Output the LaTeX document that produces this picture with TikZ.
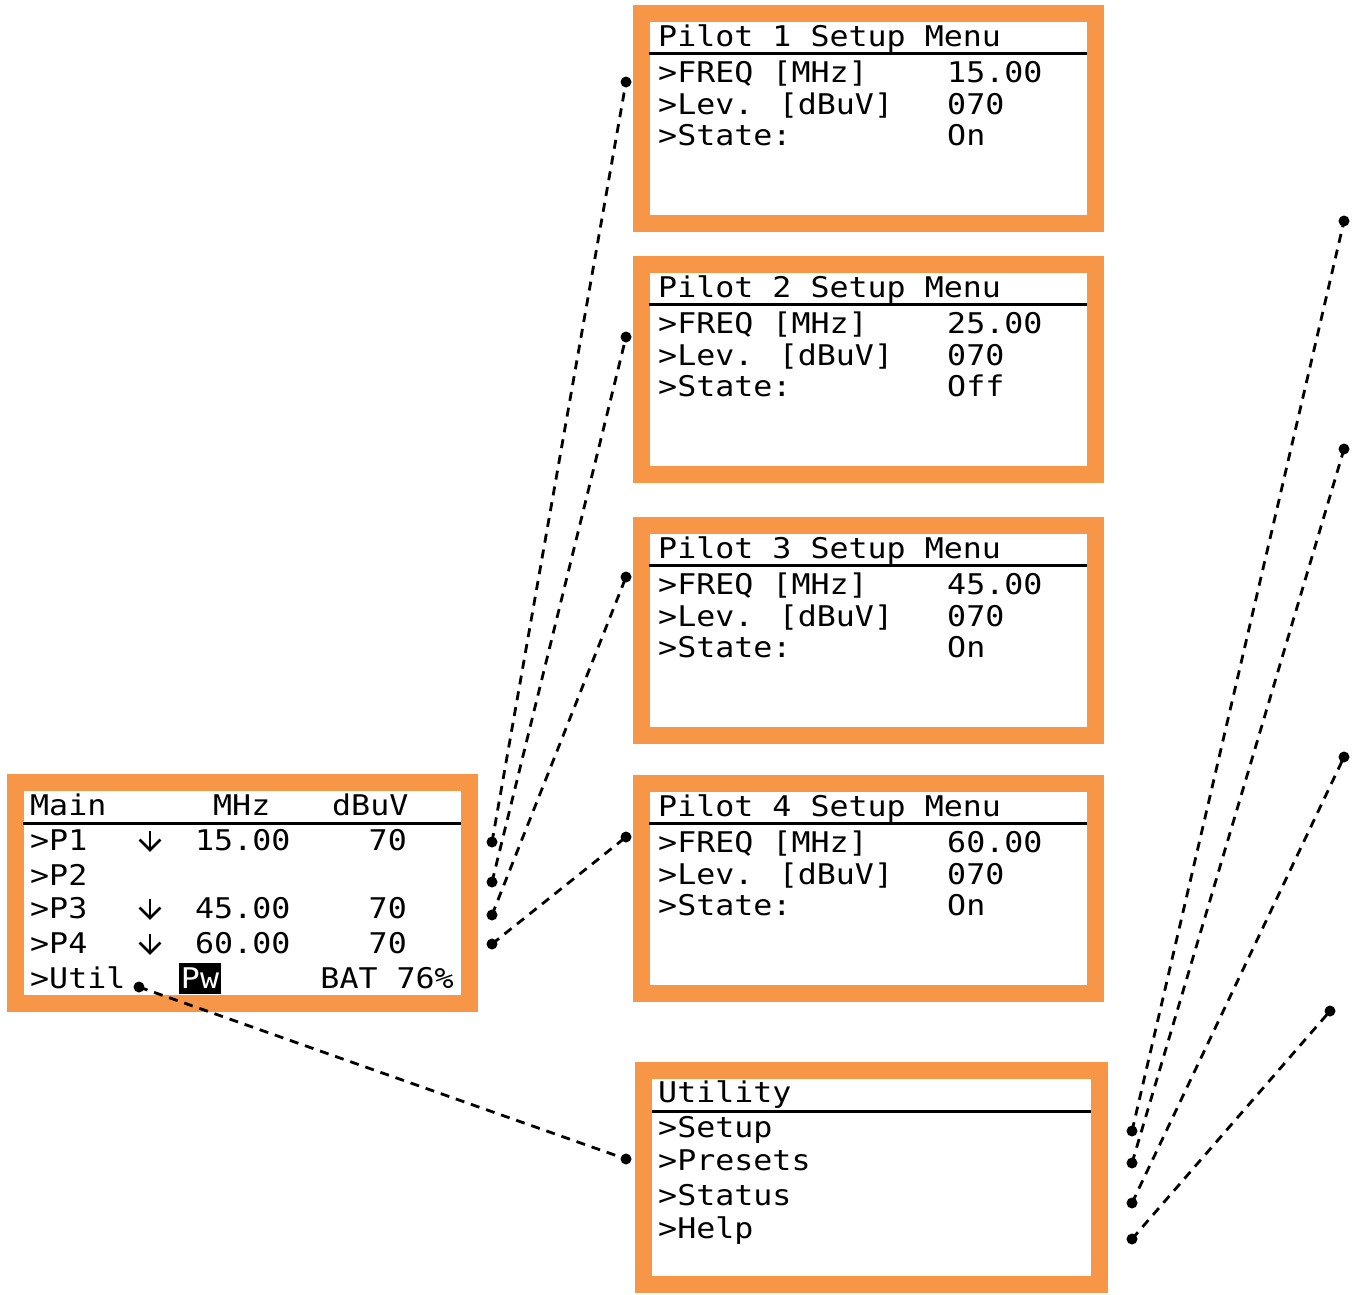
\documentclass[tikz,border=0pt]{standalone}
\usepackage{fontspec}
\newfontfamily\lcdfont[FakeStretch=1.11]{DejaVu Sans Mono}
\definecolor{boxorange}{HTML}{F79646}
\tikzset{
  mbox/.style={rectangle, draw=boxorange, fill=white, line width=17pt, inner sep=0pt},
  txt/.style={anchor=base west, inner sep=0pt, font=\lcdfont\fontsize{28.5}{28.5}\selectfont},
  txtr/.style={txt, anchor=base east},
  sepline/.style={line width=3pt},
  downarrow/.style={line width=2.6pt, line cap=butt, line join=miter},
  link/.style={line width=2.8pt, dash pattern=on 9pt off 7pt},
  dot/.style={circle, fill=black, inner sep=0pt, minimum size=11pt},
  pwbox/.style={rectangle, fill=black, text=white, inner sep=0pt, minimum width=42pt, minimum height=31pt, font=\lcdfont\fontsize{28.5}{28.5}\selectfont}
}
\begin{document}
\begin{tikzpicture}[x=1pt, y=-1pt]
\useasboundingbox (0,0) rectangle (1357,1294);
% Main box
\node[mbox, minimum width=454pt, minimum height=221pt] (mainbox) at (242.5,893) {};
\node[txt] (mtitle) at (30,815) {Main};
\node[txt] (mmhz) at (213,815) {MHz};
\node[txt] (mdbuv) at (332,815) {dBuV};
\draw[sepline] (23,823) -- (461,823);
\node[txt] (mp1) at (30,850) {>P1};
\node[txt] (mf1) at (195,850) {15.00};
\node[txtr] (ml1) at (407,850) {70};
\node[txt] (mp2) at (30,885) {>P2};
\node[txt] (mp3) at (30,918) {>P3};
\node[txt] (mf3) at (195,918) {45.00};
\node[txtr] (ml3) at (407,918) {70};
\node[txt] (mp4) at (30,953) {>P4};
\node[txt] (mf4) at (195,953) {60.00};
\node[txtr] (ml4) at (407,953) {70};
\foreach \b in {850,918,953}{
  \draw[downarrow] (150,\b-19) -- (150,\b);
  \draw[downarrow] (139.5,\b-10.5) -- (150,\b) -- (160.5,\b-10.5);
}
\node[txt] (mutil) at (30,988) {>Util};
\node[pwbox] (pw) at (200,978.5) {Pw};
\node[txtr] (bat) at (454,988) {BAT 76\%};
% Pilot boxes
\foreach \n/\t/\f/\s in {1/5/15.00/On, 2/256/25.00/Off, 3/517/45.00/On, 4/775/60.00/On}{
  \node[mbox, minimum width=454pt, minimum height=210pt] (pbox\n) at (868.5,\t+113.5) {};
  \node[txt] (pt\n) at (658,\t+41) {Pilot \n\ Setup Menu};
  \draw[sepline] (649,\t+48.5) -- (1087,\t+48.5);
  \node[txt] (pfl\n) at (658,\t+77) {>FREQ [MHz]};
  \node[txt] (pfv\n) at (947,\t+77) {\f};
  \node[txt] (pll\n) at (658,\t+109) {>Lev. [dBuV]};
  \node[txt] (plv\n) at (947,\t+109) {070};
  \node[txt] (psl\n) at (658,\t+140) {>State:};
  \node[txt] (psv\n) at (947,\t+140) {\s};
}
% Utility box
\node[mbox, minimum width=456pt, minimum height=214pt] (ubox) at (871.5,1177.5) {};
\node[txt] (ut) at (658,1102) {Utility};
\draw[sepline] (652,1111) -- (1091,1111);
\node[txt] (u1) at (658,1137) {>Setup};
\node[txt] (u2) at (658,1170) {>Presets};
\node[txt] (u3) at (658,1205) {>Status};
\node[txt] (u4) at (658,1238) {>Help};
% dots
\node[dot] (m1) at (492,842) {};
\node[dot] (m2) at (492,882) {};
\node[dot] (m3) at (492,915) {};
\node[dot] (m4) at (492,944) {};
\node[dot] (p1) at (626,82) {};
\node[dot] (p2) at (626,337) {};
\node[dot] (p3) at (626,577) {};
\node[dot] (p4) at (626,837) {};
\node[dot] (ud) at (139,987) {};
\node[dot] (ul) at (626,1159) {};
\node[dot] (r1) at (1132,1131) {};
\node[dot] (r2) at (1132,1163) {};
\node[dot] (r3) at (1132,1203) {};
\node[dot] (r4) at (1132,1239) {};
\node[dot] (f1) at (1344,221) {};
\node[dot] (f2) at (1344,449) {};
\node[dot] (f3) at (1344,757) {};
\node[dot] (f4) at (1330,1011) {};
% connectors
\draw[link] (m1.center) -- (p1.center);
\draw[link] (m2.center) -- (p2.center);
\draw[link] (m3.center) -- (p3.center);
\draw[link] (m4.center) -- (p4.center);
\draw[link] (ud.center) -- (ul.center);
\draw[link] (r1.center) -- (f1.center);
\draw[link] (r2.center) -- (f2.center);
\draw[link] (r3.center) -- (f3.center);
\draw[link] (r4.center) -- (f4.center);
\end{tikzpicture}
\end{document}
